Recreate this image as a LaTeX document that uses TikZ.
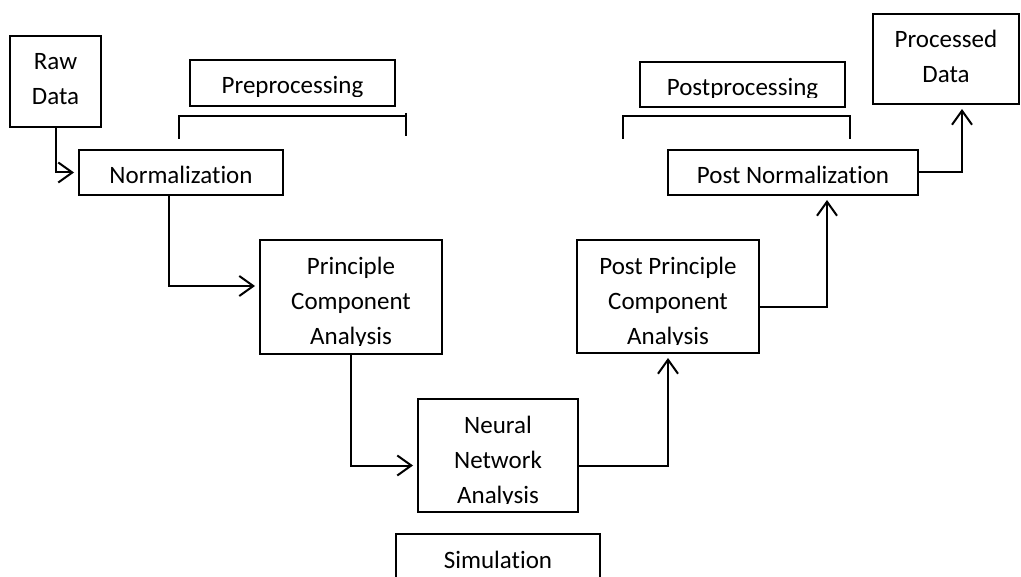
\documentclass[tikz,border=0pt]{standalone}
\usepackage{fontspec}
\setmainfont{Carlito}[Ligatures=NoCommon]
\usepackage{tikz}
\usetikzlibrary{arrows.meta}

% text of a stage, cut off at the inner margin of its box
\newcommand{\boxtext}[2]{%
	\begin{scope}
		\clip ([yshift=5pt]#1.south west) rectangle (#1.north east);
		\node[box text,anchor=base] (#1 text) at ([yshift=-17.5pt]#1.north)
			{\begin{tabular}[t]{@{}c@{}}#2\end{tabular}};
	\end{scope}}

\begin{document}
\begin{tikzpicture}[x=0.5pt,y=-0.5pt]
\tikzset{stage/.style 2 args={ %
		draw,
		line width=1pt,
		inner sep=0pt,
		minimum width=#1,
		minimum height=#2
	},
	box text/.style={ %
		inner sep=0pt,
		font=\fontsize{12.5pt}{17.5pt}\selectfont
	},
	flow/.style={ %
		line width=1pt,
		-{Straight Barb[length=7pt,width=10pt]},
		shorten >=2pt
	}
}
\useasboundingbox (0,0) rectangle (1021,577);

\node[stage={45.5pt}{45.5pt}] (raw) at (55.5,81.5) {};
\node[stage={102.5pt}{23pt}] (pre) at (292.5,83) {};
\node[stage={102pt}{22.5pt}] (norm) at (181,172.5) {};
\node[stage={91pt}{57pt}] (pca) at (351,297) {};
\node[stage={80pt}{56.5pt}] (nn) at (498,455.5) {};
\node[stage={102pt}{33pt}] (sim) at (498,567) {};
\node[stage={91pt}{56.5pt}] (ppca) at (668,296.5) {};
\node[stage={102.5pt}{22.5pt}] (post) at (742.5,84.5) {};
\node[stage={125pt}{22.5pt}] (pnorm) at (793,172.5) {};
\node[stage={73pt}{45pt}] (proc) at (946,59) {};

\boxtext{raw}{Raw\\Data}
\boxtext{pre}{Preprocessing}
\boxtext{norm}{Normalization}
\boxtext{pca}{Principle\\Component\\Analysis}
\boxtext{nn}{Neural\\Network\\Analysis}
\boxtext{sim}{Simulation}
\boxtext{ppca}{Post Principle\\Component\\Analysis}
\boxtext{post}{Postprocessing}
\boxtext{pnorm}{Post Normalization}
\boxtext{proc}{Processed\\Data}

% brackets under the two phase labels
\draw[line width=1pt] (179,139) -- (179,116) -- (406,116);
\draw[line width=1pt] (406,113) -- (406,136);
\draw[line width=1pt] (623,139) -- (623,116) -- (850,116) -- (850,139);

\draw[flow] (raw.south) |- (norm.west);
\draw[flow] ([xshift=-6pt]norm.south) |- ([yshift=5.5pt]pca.west);
\draw[flow] (pca.south) |- ([yshift=-5pt]nn.west);
\draw[flow] ([yshift=-5pt]nn.east) -| (ppca.south);
\draw[flow] ([yshift=-5pt]ppca.east) -| ([xshift=17pt]pnorm.south);
\draw[flow] (pnorm.east) -| ([xshift=8pt]proc.south);
\end{tikzpicture}
\end{document}
